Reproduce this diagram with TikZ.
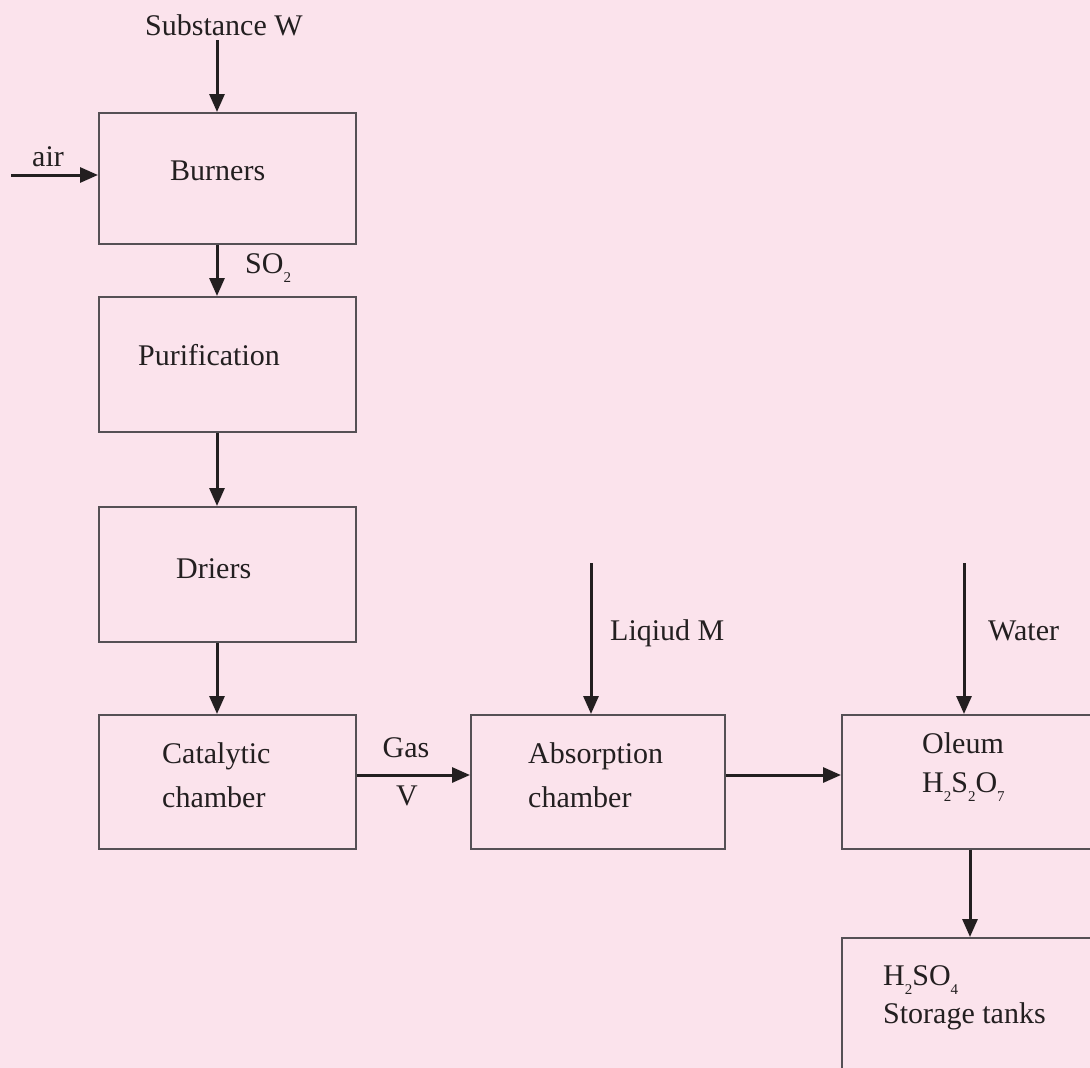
\documentclass[tikz,border=0pt]{standalone}
\usepackage{fontspec}
\setmainfont{Liberation Serif}
\usetikzlibrary{arrows.meta}
\definecolor{bg}{RGB}{251,227,236}
\definecolor{boxline}{RGB}{85,80,85}
\definecolor{ink}{RGB}{35,31,32}
\newcommand{\chemsub}[1]{\raisebox{-9pt}{\fontsize{15}{15}\selectfont #1}}
\begin{document}
\begin{tikzpicture}[x=1pt,y=-1pt,
  box/.style={draw=boxline,line width=1.6pt,rectangle,inner sep=0pt,anchor=north west},
  arr/.style={draw=ink,line width=3pt,-{Triangle[length=18pt,width=15pt]}},
  lbl/.style={font=\fontsize{30}{44}\selectfont,text=ink,inner sep=0pt,anchor=base west},
  lblc/.style={lbl,anchor=base}]
\fill[bg] (0,0) rectangle (1090,1068);
\useasboundingbox (0,0) rectangle (1090,1068);
\clip (0,0) rectangle (1090,1068);

% boxes
\node[box,minimum width=257pt,minimum height=131pt] (burners) at (98,112) {};
\node[box,minimum width=257pt,minimum height=135pt] (purif) at (98,296) {};
\node[box,minimum width=257pt,minimum height=135pt] (driers) at (98,506) {};
\node[box,minimum width=257pt,minimum height=134pt] (catal) at (98,714) {};
\node[box,minimum width=254pt,minimum height=134pt] (absorb) at (470,714) {};
\node[box,minimum width=270pt,minimum height=134pt] (oleum) at (841,714) {};
\node[box,minimum width=270pt,minimum height=150pt] (storage) at (841,937) {};

% texts
\node[lbl] (tW) at (145,35) {Substance W};
\node[lbl] (tair) at (32,166) {air};
\node[lbl] (tburn) at (170,180) {Burners};
\node[lbl] (tso2) at (245,273) {SO\chemsub{2}};
\node[lbl] (tpur) at (138,365) {Purification};
\node[lbl] (tdri) at (176,578) {Driers};
\node[lbl] (tcat1) at (162,763) {Catalytic};
\node[lbl] (tcat2) at (162,807) {chamber};
\node[lblc] (tgas) at (406,757) {Gas};
\node[lblc] (tV) at (407,805) {V};
\node[lbl] (tabs1) at (528,763) {Absorption};
\node[lbl] (tabs2) at (528,807) {chamber};
\node[lbl] (tM) at (610,640) {Liqiud M};
\node[lbl] (twat) at (988,640) {Water};
\node[lbl] (tole1) at (922,753) {Oleum};
\node[lbl] (tole2) at (922,792) {H\chemsub{2}S\chemsub{2}O\chemsub{7}};
\node[lbl] (tst1) at (883,985) {H\chemsub{2}SO\chemsub{4}};
\node[lbl] (tst2) at (883,1023) {Storage tanks};

% free ends and guide coordinates
\coordinate (wsrc) at (217,40);
\coordinate (airsrc) at (11,175);
\coordinate (msrc) at (591,563);
\coordinate (watsrc) at (964,563);
\coordinate (flowrow) at (0,775);
\coordinate (tankcol) at (970,0);

% connectors
\draw[arr] (wsrc) -- (wsrc |- burners.north);
\draw[arr] (airsrc) -- (airsrc -| burners.west);
\draw[arr] (wsrc |- burners.south) -- (wsrc |- purif.north);
\draw[arr] (wsrc |- purif.south) -- (wsrc |- driers.north);
\draw[arr] (wsrc |- driers.south) -- (wsrc |- catal.north);
\draw[arr] (catal.east |- flowrow) -- (absorb.west |- flowrow);
\draw[arr] (msrc) -- (msrc |- absorb.north);
\draw[arr] (absorb.east |- flowrow) -- (oleum.west |- flowrow);
\draw[arr] (watsrc) -- (watsrc |- oleum.north);
\draw[arr] (tankcol |- oleum.south) -- (tankcol |- storage.north);
\end{tikzpicture}
\end{document}
